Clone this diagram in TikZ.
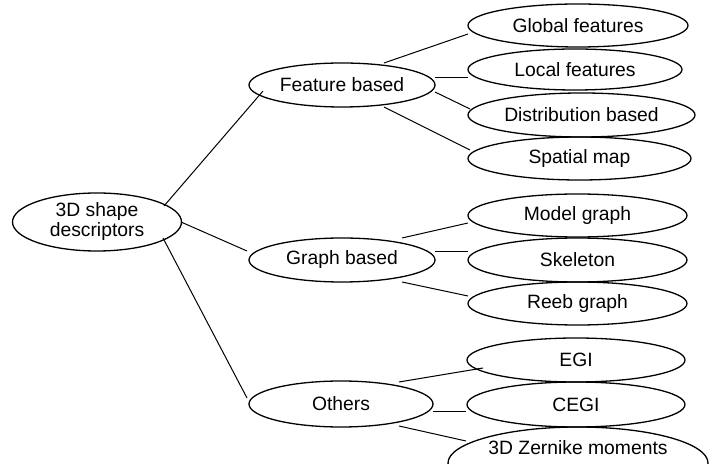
\documentclass[tikz,border=0pt]{standalone}
\usepackage{fontspec}
\setmainfont{Liberation Sans}
\usetikzlibrary{shapes.geometric,calc}
\begin{document}
\begin{tikzpicture}[x=1pt,y=1pt,
  ell/.style={draw, ellipse, line width=1.3pt, inner sep=0pt, outer sep=0pt},
  txt/.style={font=\fontsize{19.3}{20}\selectfont, align=center, inner sep=0pt},
  conn/.style={line width=1pt}]
\clip (0,0) rectangle (709,463);
% ellipses
\node[ell, minimum width=169pt, minimum height=58pt] (root) at (97,241) {};
\node[ell, minimum width=186pt, minimum height=44pt] (fb) at (342,378) {};
\node[ell, minimum width=186pt, minimum height=44pt] (gb) at (342,203) {};
\node[ell, minimum width=184pt, minimum height=46pt] (oth) at (341,59) {};
\node[ell, minimum width=220pt, minimum height=43pt] (glob) at (578,437.5) {};
\node[ell, minimum width=214pt, minimum height=41pt] (loc) at (575,393.5) {};
\node[ell, minimum width=227pt, minimum height=44pt] (dist) at (581.5,348) {};
\node[ell, minimum width=223pt, minimum height=43pt] (spat) at (579.5,304.5) {};
\node[ell, minimum width=219pt, minimum height=43pt] (model) at (577.5,247.5) {};
\node[ell, minimum width=219pt, minimum height=44pt] (skel) at (577.5,203) {};
\node[ell, minimum width=219pt, minimum height=43pt] (reeb) at (577.5,159.5) {};
\node[ell, minimum width=218pt, minimum height=44pt] (egi) at (576,103) {};
\node[ell, minimum width=218pt, minimum height=45pt] (cegi) at (576,58.5) {};
\node[ell, minimum width=260pt, minimum height=72pt] (zern) at (578,0) {};
% texts
\node[txt] (rootT) at (root) {3D shape\\descriptors};
\node[txt] (fbT) at (fb) {Feature based};
\node[txt] (gbT) at (gb) {Graph based};
\node[txt] (othT) at (oth) {Others};
\node[txt] (globT) at (glob) {Global features};
\node[txt] (locT) at (loc) {Local features};
\node[txt] (distT) at (dist) {Distribution based};
\node[txt] (spatT) at (spat) {Spatial map};
\node[txt] (modelT) at (model) {Model graph};
\node[txt] (skelT) at (skel) {Skeleton};
\node[txt] (reebT) at (reeb) {Reeb graph};
\node[txt] (egiT) at (egi) {EGI};
\node[txt] (cegiT) at (cegi) {CEGI};
\node[txt] (zernT) at ($(zern)+(0,15)$) {3D Zernike moments};
% connectors
\draw[conn] ($(root)+(67,16)$) -- ($(fb)+(-79,-6)$);
\draw[conn] ($(root)+(84,0)$) -- ($(gb)+(-95,9)$);
\draw[conn] ($(root)+(66,-16)$) -- ($(oth)+(-94,6)$);
\draw[conn] ($(fb)+(42,22)$) -- ($(glob)+(-110,-8.5)$);
\draw[conn] ($(fb)+(93,7.5)$) -- ($(loc)+(-107,-8)$);
\draw[conn] ($(fb)+(93,-7)$) -- ($(dist)+(-111.5,6)$);
\draw[conn] ($(fb)+(42,-22)$) -- ($(spat)+(-109.5,8.5)$);
\draw[conn] ($(gb)+(60,22)$) -- ($(model)+(-109.5,-7.5)$);
\draw[conn] ($(gb)+(93,8.5)$) -- ($(skel)+(-109.5,8.5)$);
\draw[conn] ($(gb)+(60,-22)$) -- ($(reeb)+(-109.5,7.5)$);
\draw[conn] ($(oth)+(58,22)$) -- ($(egi)+(-93,-8)$);
\draw[conn] ($(oth)+(92,-7.5)$) -- ($(cegi)+(-110,-7)$);
\draw[conn] ($(oth)+(58,-22)$) -- ($(zern)+(-112,22)$);
\end{tikzpicture}
\end{document}
